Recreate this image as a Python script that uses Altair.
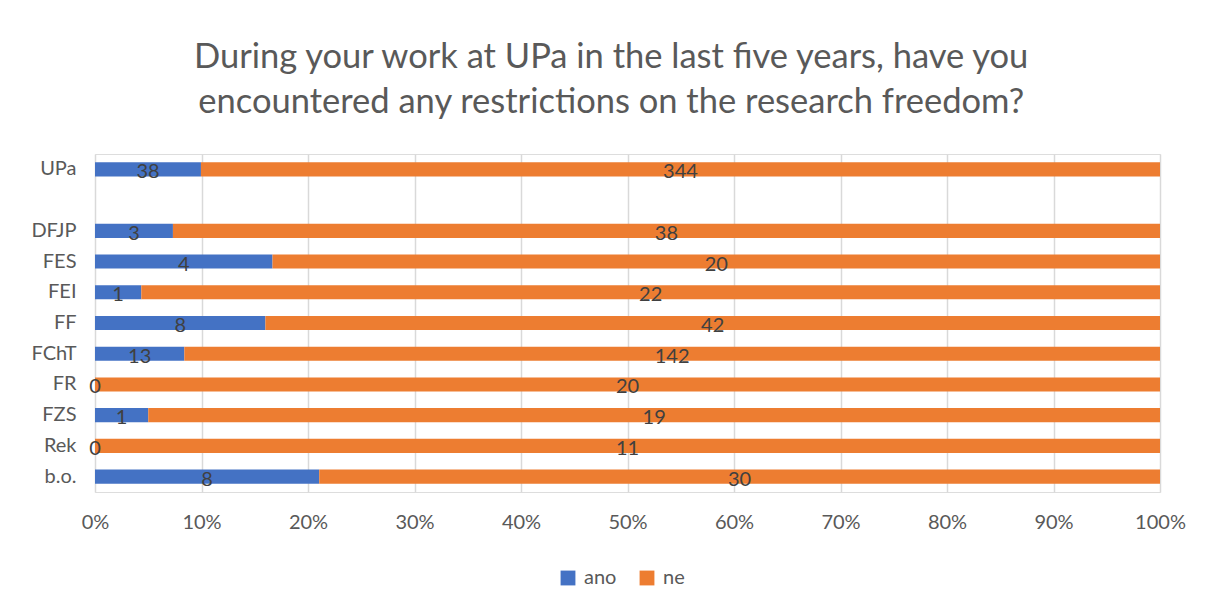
import altair as alt
import pandas as pd

categories = ["UPa", "DFJP", "FES", "FEI", "FF", "FChT", "FR", "FZS", "Rek", "b.o."]
axis_order = ["UPa", " ", "DFJP", "FES", "FEI", "FF", "FChT", "FR", "FZS", "Rek", "b.o."]
ano = [38, 3, 4, 1, 8, 13, 0, 1, 0, 8]
ne = [344, 38, 20, 22, 42, 142, 20, 19, 11, 30]
series = ["ano", "ne"]
colors = ["#4472C4", "#ED7D31"]
x_ticks = [0, 0.1, 0.2, 0.3, 0.4, 0.5, 0.6, 0.7, 0.8, 0.9, 1.0]

rows = []
for c, a, n in zip(categories, ano, ne):
    rows.append({"cat": c, "series": "ano", "order": 0, "count": a})
    rows.append({"cat": c, "series": "ne", "order": 1, "count": n})
df = pd.DataFrame(rows)

FONT = "Lato"
TXT = "#595959"
FS = 20

base = (
    alt.Chart(df)
    .transform_joinaggregate(total="sum(count)", groupby=["cat"])
    .transform_window(cum="sum(count)", groupby=["cat"], sort=[alt.SortField("order")], frame=[None, 0])
    .transform_calculate(
        x0="(datum.cum - datum.count) / datum.total",
        x1="datum.cum / datum.total",
        mid="(datum.cum - datum.count / 2) / datum.total",
    )
)

yscale = alt.Scale(domain=axis_order, paddingInner=0.54, paddingOuter=0.27)

bars = base.mark_bar().encode(
    x=alt.X(
        "x0:Q",
        scale=alt.Scale(domain=[0, 1], nice=False, zero=True),
        axis=alt.Axis(title=None, format="%", values=x_ticks, grid=True, gridColor="#d9d9d9",
                      gridWidth=1.5, domain=False, ticks=False, labelFontSize=FS, labelColor=TXT,
                      labelFont=FONT, labelPadding=20, labelFlush=False, labelBound=False,
                      labelOverlap=False),
    ),
    x2="x1:Q",
    y=alt.Y(
        "cat:N",
        scale=yscale,
        axis=alt.Axis(title=None, domain=False, ticks=False, labelFontSize=FS, labelColor=TXT,
                      labelFont=FONT, labelPadding=19, minExtent=80, maxExtent=80, grid=False),
    ),
    color=alt.Color(
        "series:N",
        scale=alt.Scale(domain=series, range=colors),
        legend=alt.Legend(title=None, orient="none", legendX=463, legendY=414, direction="horizontal",
                          symbolType="square", symbolSize=220, symbolStrokeWidth=0,
                          labelFontSize=FS, labelColor=TXT, labelFont=FONT, columnPadding=20,
                          labelOffset=6),
    ),
)

labels = base.mark_text(fontSize=FS, color="#404040", font=FONT, baseline="middle", dy=3).encode(
    x=alt.X("mid:Q"),
    y=alt.Y("cat:N", scale=yscale),
    text=alt.Text("count:Q"),
)

chart = (
    alt.layer(bars, labels)
    .properties(
        width=1065,
        height=338,
        padding={"left": 7, "top": 31, "right": 0, "bottom": 5},
        title=alt.TitleParams(
            text=["During your work at UPa in the last five years, have you",
                  "encountered any restrictions on the research freedom?"],
            fontSize=34.5, font=FONT, fontWeight="normal", color=TXT, lineHeight=45,
            anchor="middle", frame="bounds", offset=34, dx=11,
        ),
    )
    .configure_view(stroke=None)
    .configure(background="white")
)

chart.save("out.html", embed_options={"renderer": "svg", "actions": False})
